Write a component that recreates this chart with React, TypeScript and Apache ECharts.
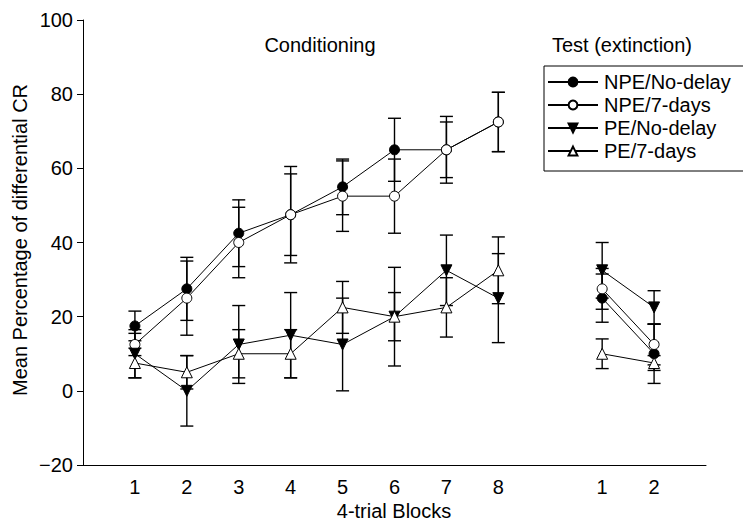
import React, { useEffect, useRef } from "react";
import * as echarts from "echarts";

// Block positions on the x scale (conditioning 1-8, test blocks placed at 10, 11)
const condBlocks = [1, 2, 3, 4, 5, 6, 7, 8];
const testBlocks = [10, 11];
const tickLabels: Record<number, string> = { 1: "1", 2: "2", 3: "3", 4: "4", 5: "5", 6: "6", 7: "7", 8: "8", 10: "1", 11: "2" };

const seriesNames = ["NPE/No-delay", "NPE/7-days", "PE/No-delay", "PE/7-days"];

const npeNoDelayCond = [17.5, 27.5, 42.5, 47.5, 55, 65, 65, 72.5];
const npeNoDelayCondErr = [4, 8.5, 9, 13, 7.5, 8.5, 9, 8];
const npeNoDelayTest = [25, 10];
const npeNoDelayTestErr = [6.5, 8];

const npe7Cond = [12.5, 25, 40, 47.5, 52.5, 52.5, 65, 72.5];
const npe7CondErr = [3, 10, 9.5, 11, 9.5, 10, 7.5, 8];
const npe7Test = [27.5, 12.5];
const npe7TestErr = [5.5, 5.5];

const peNoDelayCond = [10, 0, 12.5, 15, 12.5, 20, 32.5, 25];
const peNoDelayCondErr = [6.5, 9.5, 10.5, 11.5, 12.5, 13.3, 9.5, 12];
const peNoDelayTest = [32.5, 22.5];
const peNoDelayTestErr = [7.5, 4.5];

const pe7Cond = [7.5, 5, 10, 10, 22.5, 20, 22.5, 32.5];
const pe7CondErr = [4, 4.5, 6.5, 6.5, 7, 6.5, 8, 9];
const pe7Test = [10, 7.5];
const pe7TestErr = [4, 2];

const FONT = "'Liberation Sans', Arial, Helvetica, sans-serif";
const DOWN_TRI = "path://M0,0L10,0L5,8.66Z";

const styles = [
  { symbol: "circle", size: 10, fill: "#000" },
  { symbol: "circle", size: 10, fill: "#fff" },
  { symbol: DOWN_TRI, size: 11, fill: "#000" },
  { symbol: "triangle", size: 11, fill: "#fff" },
];

function errorSeries(xs: number[], ys: number[], es: number[]) {
  return {
    type: "custom",
    silent: true,
    z: 1,
    renderItem: (_p: any, api: any) => {
      const x = api.value(0);
      const lo = api.value(1);
      const hi = api.value(2);
      const a = api.coord([x, hi]);
      const b = api.coord([x, lo]);
      const w = 6.5;
      const st = { stroke: "#000", lineWidth: 1.4 };
      return {
        type: "group",
        children: [
          { type: "line", shape: { x1: a[0], y1: a[1], x2: b[0], y2: b[1] }, style: st },
          { type: "line", shape: { x1: a[0] - w, y1: a[1], x2: a[0] + w, y2: a[1] }, style: st },
          { type: "line", shape: { x1: b[0] - w, y1: b[1], x2: b[0] + w, y2: b[1] }, style: st },
        ],
      };
    },
    encode: { x: 0, y: [1, 2] },
    data: xs.map((x, i) => [x, ys[i] - es[i], ys[i] + es[i]]),
  };
}

function lineSeries(idx: number, xs: number[], ys: number[]) {
  const s = styles[idx];
  return {
    type: "line",
    name: seriesNames[idx],
    z: 3 + idx,
    symbol: s.symbol,
    symbolSize: s.size,
    lineStyle: { color: "#000", width: 1 },
    itemStyle: { color: s.fill, borderColor: "#000", borderWidth: 1 },
    data: xs.map((x, i) => [x, ys[i]]),
  };
}

export default function App() {
  const ref = useRef<HTMLDivElement>(null);
  useEffect(() => {
    if (!ref.current) return;
    const chart = echarts.init(ref.current, undefined, { renderer: "svg" });
    const groups = [
      [npeNoDelayCond, npeNoDelayCondErr, npeNoDelayTest, npeNoDelayTestErr],
      [npe7Cond, npe7CondErr, npe7Test, npe7TestErr],
      [peNoDelayCond, peNoDelayCondErr, peNoDelayTest, peNoDelayTestErr],
      [pe7Cond, pe7CondErr, pe7Test, pe7TestErr],
    ];
    const series: any[] = [];
    groups.forEach((g) => {
      series.push(errorSeries(condBlocks, g[0], g[1]));
      series.push(errorSeries(testBlocks, g[2], g[3]));
    });
    groups.forEach((g, i) => {
      series.push(lineSeries(i, condBlocks, g[0]));
      series.push(lineSeries(i, testBlocks, g[2]));
    });
    chart.setOption({
      animation: false,
      backgroundColor: "#fff",
      textStyle: { fontFamily: FONT },
      grid: { left: 83, right: 37, top: 20, bottom: 61 },
      xAxis: {
        type: "value",
        min: 0,
        max: 12,
        interval: 1,
        axisLine: { onZero: false, lineStyle: { color: "#000", width: 1 } },
        axisTick: { show: false },
        splitLine: { show: false },
        axisLabel: {
          color: "#000",
          fontSize: 20,
          fontFamily: FONT,
          margin: 12,
          formatter: (v: number) => tickLabels[v] ?? "",
        },
      },
      yAxis: {
        type: "value",
        min: -20,
        max: 100,
        interval: 20,
        axisLine: { show: true, onZero: false, lineStyle: { color: "#000", width: 1 } },
        axisTick: { show: true, length: 6, lineStyle: { color: "#000" } },
        splitLine: { show: false },
        axisLabel: {
          color: "#000",
          fontSize: 20,
          fontFamily: FONT,
          margin: 10,
          formatter: (v: number) => (v < 0 ? "\u2212" + Math.abs(v) : String(v)),
        },
      },
      legend: {
        data: seriesNames,
        orient: "vertical",
        left: 544,
        top: 66,
        padding: [6, 14, 10, 3],
        itemGap: 3,
        itemWidth: 50,
        itemHeight: 11,
        borderColor: "#000",
        borderWidth: 1,
        textStyle: { color: "#000", fontSize: 20, fontFamily: FONT, padding: [0, 0, 0, 1] },
        selectedMode: false,
      },
      graphic: [
        { type: "text", x: 320, y: 45, style: { text: "Conditioning", fontSize: 20, fontFamily: FONT, fill: "#000", textAlign: "center", textVerticalAlign: "middle" } },
        { type: "text", x: 622, y: 45, style: { text: "Test (extinction)", fontSize: 20, fontFamily: FONT, fill: "#000", textAlign: "center", textVerticalAlign: "middle" } },
        { type: "text", x: 394, y: 511, style: { text: "4-trial Blocks", fontSize: 20, fontFamily: FONT, fill: "#000", textAlign: "center", textVerticalAlign: "middle" } },
        { type: "text", x: 20, y: 240, rotation: Math.PI / 2, style: { text: "Mean Percentage of differential CR", fontSize: 20, fontFamily: FONT, fill: "#000", textAlign: "center", textVerticalAlign: "middle" } },
      ],
      series,
    });
    return () => chart.dispose();
  }, []);
  return <div ref={ref} style={{ width: 743, height: 526, position: "absolute", left: 0, top: 0 }} />;
}
